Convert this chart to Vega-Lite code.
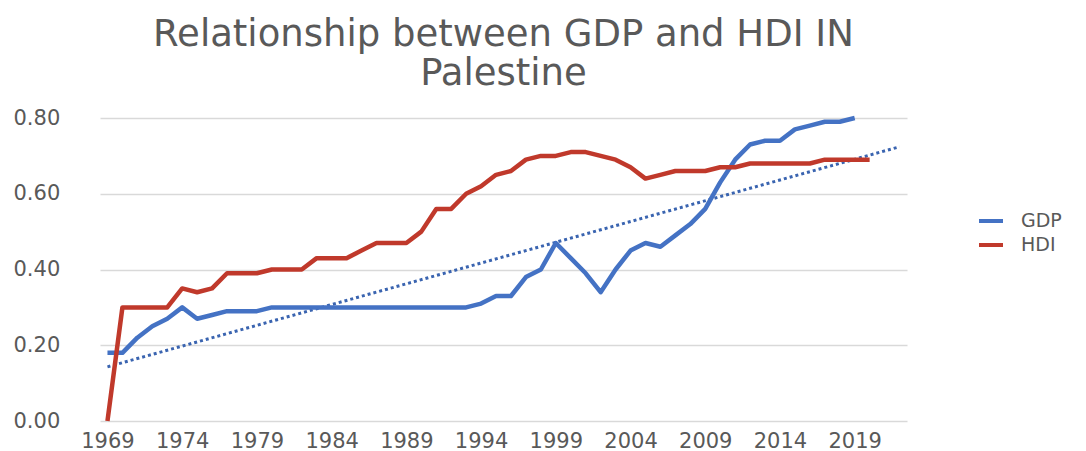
{
  "$schema": "https://vega.github.io/schema/vega-lite/v6.json",
  "width": 807,
  "height": 303,
  "autosize": {"type": "none"},
  "padding": {"left": 100, "top": 118, "right": 179, "bottom": 30},
  "background": "white",
  "title": {
    "text": ["Relationship between GDP and HDI IN", "Palestine"],
    "fontSize": 37,
    "font": "DejaVu Sans",
    "fontWeight": "normal",
    "color": "#595959",
    "lineHeight": 39,
    "anchor": "middle",
    "offset": 14
  },
  "config": {
    "view": {"stroke": null},
    "font": "DejaVu Sans"
  },
  "datasets": {
    "main": [
      {"year": 1969, "series": "GDP", "value": 0.18},
      {"year": 1970, "series": "GDP", "value": 0.18},
      {"year": 1971, "series": "GDP", "value": 0.22},
      {"year": 1972, "series": "GDP", "value": 0.25},
      {"year": 1973, "series": "GDP", "value": 0.27},
      {"year": 1974, "series": "GDP", "value": 0.30},
      {"year": 1975, "series": "GDP", "value": 0.27},
      {"year": 1976, "series": "GDP", "value": 0.28},
      {"year": 1977, "series": "GDP", "value": 0.29},
      {"year": 1978, "series": "GDP", "value": 0.29},
      {"year": 1979, "series": "GDP", "value": 0.29},
      {"year": 1980, "series": "GDP", "value": 0.30},
      {"year": 1981, "series": "GDP", "value": 0.30},
      {"year": 1982, "series": "GDP", "value": 0.30},
      {"year": 1983, "series": "GDP", "value": 0.30},
      {"year": 1984, "series": "GDP", "value": 0.30},
      {"year": 1985, "series": "GDP", "value": 0.30},
      {"year": 1986, "series": "GDP", "value": 0.30},
      {"year": 1987, "series": "GDP", "value": 0.30},
      {"year": 1988, "series": "GDP", "value": 0.30},
      {"year": 1989, "series": "GDP", "value": 0.30},
      {"year": 1990, "series": "GDP", "value": 0.30},
      {"year": 1991, "series": "GDP", "value": 0.30},
      {"year": 1992, "series": "GDP", "value": 0.30},
      {"year": 1993, "series": "GDP", "value": 0.30},
      {"year": 1994, "series": "GDP", "value": 0.31},
      {"year": 1995, "series": "GDP", "value": 0.33},
      {"year": 1996, "series": "GDP", "value": 0.33},
      {"year": 1997, "series": "GDP", "value": 0.38},
      {"year": 1998, "series": "GDP", "value": 0.40},
      {"year": 1999, "series": "GDP", "value": 0.47},
      {"year": 2000, "series": "GDP", "value": 0.43},
      {"year": 2001, "series": "GDP", "value": 0.39},
      {"year": 2002, "series": "GDP", "value": 0.34},
      {"year": 2003, "series": "GDP", "value": 0.40},
      {"year": 2004, "series": "GDP", "value": 0.45},
      {"year": 2005, "series": "GDP", "value": 0.47},
      {"year": 2006, "series": "GDP", "value": 0.46},
      {"year": 2007, "series": "GDP", "value": 0.49},
      {"year": 2008, "series": "GDP", "value": 0.52},
      {"year": 2009, "series": "GDP", "value": 0.56},
      {"year": 2010, "series": "GDP", "value": 0.63},
      {"year": 2011, "series": "GDP", "value": 0.69},
      {"year": 2012, "series": "GDP", "value": 0.73},
      {"year": 2013, "series": "GDP", "value": 0.74},
      {"year": 2014, "series": "GDP", "value": 0.74},
      {"year": 2015, "series": "GDP", "value": 0.77},
      {"year": 2016, "series": "GDP", "value": 0.78},
      {"year": 2017, "series": "GDP", "value": 0.79},
      {"year": 2018, "series": "GDP", "value": 0.79},
      {"year": 2019, "series": "GDP", "value": 0.80},
      {"year": 1969, "series": "HDI", "value": 0.00},
      {"year": 1970, "series": "HDI", "value": 0.30},
      {"year": 1971, "series": "HDI", "value": 0.30},
      {"year": 1972, "series": "HDI", "value": 0.30},
      {"year": 1973, "series": "HDI", "value": 0.30},
      {"year": 1974, "series": "HDI", "value": 0.35},
      {"year": 1975, "series": "HDI", "value": 0.34},
      {"year": 1976, "series": "HDI", "value": 0.35},
      {"year": 1977, "series": "HDI", "value": 0.39},
      {"year": 1978, "series": "HDI", "value": 0.39},
      {"year": 1979, "series": "HDI", "value": 0.39},
      {"year": 1980, "series": "HDI", "value": 0.40},
      {"year": 1981, "series": "HDI", "value": 0.40},
      {"year": 1982, "series": "HDI", "value": 0.40},
      {"year": 1983, "series": "HDI", "value": 0.43},
      {"year": 1984, "series": "HDI", "value": 0.43},
      {"year": 1985, "series": "HDI", "value": 0.43},
      {"year": 1986, "series": "HDI", "value": 0.45},
      {"year": 1987, "series": "HDI", "value": 0.47},
      {"year": 1988, "series": "HDI", "value": 0.47},
      {"year": 1989, "series": "HDI", "value": 0.47},
      {"year": 1990, "series": "HDI", "value": 0.50},
      {"year": 1991, "series": "HDI", "value": 0.56},
      {"year": 1992, "series": "HDI", "value": 0.56},
      {"year": 1993, "series": "HDI", "value": 0.60},
      {"year": 1994, "series": "HDI", "value": 0.62},
      {"year": 1995, "series": "HDI", "value": 0.65},
      {"year": 1996, "series": "HDI", "value": 0.66},
      {"year": 1997, "series": "HDI", "value": 0.69},
      {"year": 1998, "series": "HDI", "value": 0.70},
      {"year": 1999, "series": "HDI", "value": 0.70},
      {"year": 2000, "series": "HDI", "value": 0.71},
      {"year": 2001, "series": "HDI", "value": 0.71},
      {"year": 2002, "series": "HDI", "value": 0.70},
      {"year": 2003, "series": "HDI", "value": 0.69},
      {"year": 2004, "series": "HDI", "value": 0.67},
      {"year": 2005, "series": "HDI", "value": 0.64},
      {"year": 2006, "series": "HDI", "value": 0.65},
      {"year": 2007, "series": "HDI", "value": 0.66},
      {"year": 2008, "series": "HDI", "value": 0.66},
      {"year": 2009, "series": "HDI", "value": 0.66},
      {"year": 2010, "series": "HDI", "value": 0.67},
      {"year": 2011, "series": "HDI", "value": 0.67},
      {"year": 2012, "series": "HDI", "value": 0.68},
      {"year": 2013, "series": "HDI", "value": 0.68},
      {"year": 2014, "series": "HDI", "value": 0.68},
      {"year": 2015, "series": "HDI", "value": 0.68},
      {"year": 2016, "series": "HDI", "value": 0.68},
      {"year": 2017, "series": "HDI", "value": 0.69},
      {"year": 2018, "series": "HDI", "value": 0.69},
      {"year": 2019, "series": "HDI", "value": 0.69},
      {"year": 2020, "series": "HDI", "value": 0.69}
    ],
    "trend": [
      {"year": 1969, "value": 0.143},
      {"year": 2022, "value": 0.724}
    ]
  },
  "layer": [
    {
      "data": {"name": "trend"},
      "mark": {"type": "line", "color": "#3a64b0", "strokeWidth": 3, "strokeDash": [3, 3]},
      "encoding": {
        "x": {"field": "year", "type": "quantitative"},
        "y": {"field": "value", "type": "quantitative"}
      }
    },
    {
      "data": {"name": "main"},
      "mark": {"type": "line", "strokeWidth": 4.5, "strokeJoin": "round", "strokeCap": "butt"},
      "encoding": {
        "x": {
          "field": "year",
          "type": "quantitative",
          "scale": {"domain": [1968.5, 2022.5], "nice": false, "zero": false},
          "axis": {
            "title": null,
            "values": [1969, 1974, 1979, 1984, 1989, 1994, 1999, 2004, 2009, 2014, 2019],
            "format": "d",
            "grid": false,
            "domain": false,
            "ticks": false,
            "labelFontSize": 21,
            "labelColor": "#595959",
            "labelPadding": 9,
            "labelFlush": false
          }
        },
        "y": {
          "field": "value",
          "type": "quantitative",
          "scale": {"domain": [0, 0.8], "nice": false},
          "axis": {
            "title": null,
            "values": [0, 0.2, 0.4, 0.6, 0.8],
            "format": ".2f",
            "grid": true,
            "gridColor": "#d9d9d9",
            "gridWidth": 1.5,
            "domain": false,
            "ticks": false,
            "labelFontSize": 21,
            "labelColor": "#595959",
            "labelAlign": "left",
            "labelPadding": 87
          }
        },
        "color": {
          "field": "series",
          "type": "nominal",
          "scale": {"domain": ["GDP", "HDI"], "range": ["#4472C4", "#C0392B"]},
          "legend": {
            "title": null,
            "orient": "none",
            "legendX": 877,
            "legendY": 89,
            "symbolType": "stroke",
            "symbolSize": 576,
            "symbolStrokeWidth": 4,
            "labelFontSize": 19,
            "labelColor": "#595959",
            "labelOffset": 16,
            "rowPadding": 0
          }
        }
      }
    }
  ]
}
